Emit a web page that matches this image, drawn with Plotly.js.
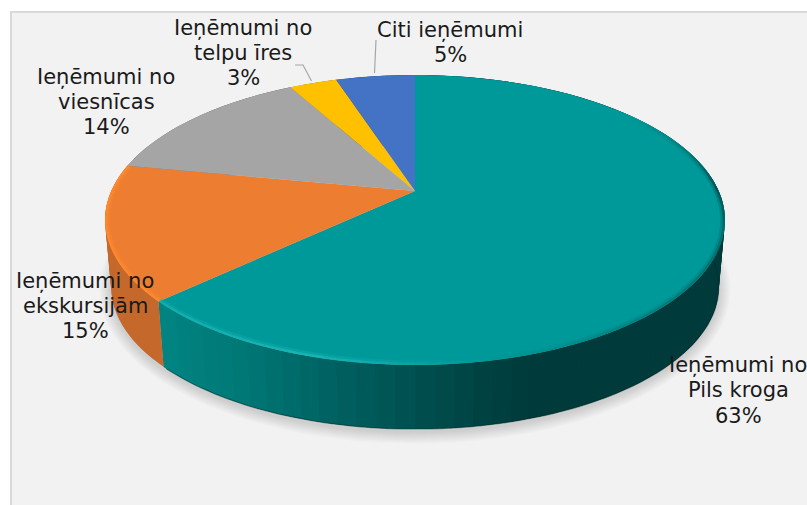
<!DOCTYPE html>
<html><head><meta charset="utf-8">
<script src="https://cdn.plot.ly/plotly-3.0.1.min.js"></script>
<style>html,body{margin:0;padding:0;background:#fff}#c{width:807px;height:505px}</style>
</head><body><div id="c"></div>
<script>
// ---- data ----
const categories = ["Ieņēmumi no Pils kroga","Ieņēmumi no ekskursijām","Ieņēmumi no viesnīcas","Ieņēmumi no telpu īres","Citi ieņēmumi"];
const values = [63,15,14,3,5];
const labelLines = [["Ieņēmumi no","Pils kroga"],["Ieņēmumi no","ekskursijām"],["Ieņēmumi no","viesnīcas"],["Ieņēmumi no","telpu īres"],["Citi ieņēmumi"]];
const sliceColors = ["#009999","#ED7D31","#A5A5A5","#FFC000","#4472C4"];
const wallColors = [null,"#c4682c","#7c7c7c","#bf9000","#33558f"];
const rimColors = [null,"#ff8a2e",null,null,null];

// ---- geometry of the tilted disc (plot units = pixels) ----
const CX=415, APEX_Y=191, A=303.7, B=139.2, K=-0.2;
const ELL_Y=221, WALL_DROP=67, WALL_SCALE=0.98;
const labelX=[738,85,106,243,450];
const labelY=[[365,390],[281,306],[77,102],[28,53],[30]];
const pctY=[416,331,127,78,55];
const FONT={family:"DejaVu Sans, Verdana, sans-serif",size:21,color:"#1a1a1a"};

const rad=d=>d*Math.PI/180;
function topPt(t){const u=Math.sin(rad(t)),v=-Math.cos(rad(t)),d=1+K*v;return [CX+A*u/d,APEX_Y+B*v/d];}
function botPt(t){const p=topPt(t);return [CX+(p[0]-CX)*WALL_SCALE,ELL_Y+(p[1]-ELL_Y)*WALL_SCALE+WALL_DROP];}
// a point just inside the rim of the top face
function rimPt(t,inset){const p=topPt(t);return [CX+(p[0]-CX)*(1-inset/310),ELL_Y+(p[1]-ELL_Y)*(1-inset/146)];}
function hex(c){return [1,3,5].map(i=>parseInt(c.substr(i,2),16));}
function ramp(stops,x){
  if(x<=stops[0][0])return stops[0][1];
  for(let i=1;i<stops.length;i++){ if(x<=stops[i][0]){
    const f=(x-stops[i-1][0])/(stops[i][0]-stops[i-1][0]),a=hex(stops[i-1][1]),b=hex(stops[i][1]);
    return "rgb("+a.map((v,j)=>Math.round(v+(b[j]-v)*f)).join(",")+")";}}
  return stops[stops.length-1][1];
}
const tealWall=[[165,"#008482"],[230,"#007a78"],[320,"#006464"],[400,"#005252"],[470,"#004545"],[530,"#003a3a"],[800,"#003a3a"]];
const tealRim=[[52,"#009999"],[72,"#007a7a"],[88,"#004d4d"],[105,"#006a6a"],[140,"#007e7e"],[170,"#009a9a"],[195,"#1ab8b8"],[227,"#14aeae"]];

const traces=[];
const poly=(xs,ys,fill)=>traces.push({type:"scatter",mode:"lines",x:xs,y:ys,fill:"toself",fillcolor:fill,
  line:{color:fill,width:0},hoverinfo:"skip",showlegend:false});
const stroke=(xs,ys,color,width,opacity)=>traces.push({type:"scatter",mode:"lines",x:xs,y:ys,
  line:{color,width},opacity,hoverinfo:"skip",showlegend:false});

// soft shadow under the disc, stacked rings
for(let d=12;d>=1;d--){
  const xs=[],ys=[];
  for(let t=0;t<=360;t+=3){const p=botPt(t);
    xs.push(CX+(p[0]-CX)*(1+d/304)); ys.push(ELL_Y+WALL_DROP+3+(p[1]-ELL_Y-WALL_DROP)*(1+d/143));}
  poly(xs,ys,"rgba(0,0,0,0.012)");
}

// slice extents from the values
const total=values.reduce((a,b)=>a+b,0);
let acc=0; const spans=values.map(v=>{const s=[acc/total*360,(acc+v)/total*360];acc+=v;return s;});

// side wall: overlapping strips painted in order, so no seams appear
spans.forEach((s,i)=>{
  const step=3;
  for(let t=s[0];t<s[1];t+=step){
    const e=Math.min(t+step*2,s[1]);
    const a=topPt(t),b=topPt(e),c=botPt(e),d=botPt(t),m=topPt(Math.min(t+step,s[1]));
    const col=wallColors[i]||ramp(tealWall,(a[0]+m[0])/2);
    const xs=[],ys=[];
    for(let q=t;q<e;q+=0.5){const p=topPt(q);xs.push(p[0]);ys.push(p[1]);}
    xs.push(b[0]);ys.push(b[1]);
    for(let q=e;q>t;q-=0.5){const p=botPt(q);xs.push(p[0]);ys.push(p[1]);}
    xs.push(d[0],a[0]);ys.push(d[1],a[1]);
    poly(xs,ys,col);
  }
});
// dark foot line under the wall
{const xs=[],ys=[];for(let t=spans[0][0]+60;t<=spans[0][1];t+=2){const p=botPt(t);xs.push(p[0]);ys.push(p[1]);}
 stroke(xs,ys,"rgba(0,40,40,0.45)",1.2,1);}

// top faces
spans.forEach((s,i)=>{
  const xs=[CX],ys=[APEX_Y];
  const n=Math.ceil((s[1]-s[0])/1.5);
  for(let k=0;k<=n;k++){const p=topPt(s[0]+(s[1]-s[0])*k/n);xs.push(p[0]);ys.push(p[1]);}
  xs.push(CX);ys.push(APEX_Y);
  poly(xs,ys,sliceColors[i]);
});

// bevel along the rim: a soft wide pass and a crisp narrow pass, kept inside the face
spans.forEach((s,i)=>{
  if(i>1)return;
  const step=2;
  for(let t=s[0];t<s[1];t+=step){
    const e=Math.min(t+step,s[1]);
    if(i===0&&t<52)continue;
    const col=i===0?ramp(tealRim,t):rimColors[i];
    const a=rimPt(t,2.5),b=rimPt(e,2.5),a2=rimPt(t,1.2),b2=rimPt(e,1.2);
    stroke([a[0],b[0]],[a[1],b[1]],col,4.5,0.35);
    stroke([a2[0],b2[0]],[a2[1],b2[1]],col,2.4,0.85);
  }
});

// labels
const annotations=[];
const addText=(x,y,text)=>annotations.push({x,y,xref:"x",yref:"y",text,showarrow:false,xanchor:"center",yanchor:"middle",font:FONT});
categories.forEach((c,i)=>{
  labelLines[i].forEach((l,j)=>addText(labelX[i],labelY[i][j],l));
  addText(labelX[i],pctY[i],Math.round(values[i]/total*100)+"%");
});

const layout={width:807,height:505,margin:{l:0,r:0,t:0,b:0},paper_bgcolor:"#fff",plot_bgcolor:"#fff",showlegend:false,
  xaxis:{range:[0,807],visible:false,fixedrange:true},
  yaxis:{range:[505,0],visible:false,fixedrange:true},
  annotations,
  shapes:[
   {type:"rect",layer:"below",xref:"x",yref:"y",x0:11,y0:12,x1:830,y1:530,fillcolor:"#f2f2f2",line:{color:"#d9d9d9",width:2}},
   {type:"path",layer:"above",xref:"x",yref:"y",path:"M376 40 L374.5 73",line:{color:"#a6a6a6",width:1.2}},
   {type:"path",layer:"above",xref:"x",yref:"y",path:"M295 65 L303 65 L311.5 81",line:{color:"#a6a6a6",width:1.2}}
  ]};
Plotly.newPlot("c",traces,layout,{displayModeBar:false,staticPlot:true});
</script></body></html>
